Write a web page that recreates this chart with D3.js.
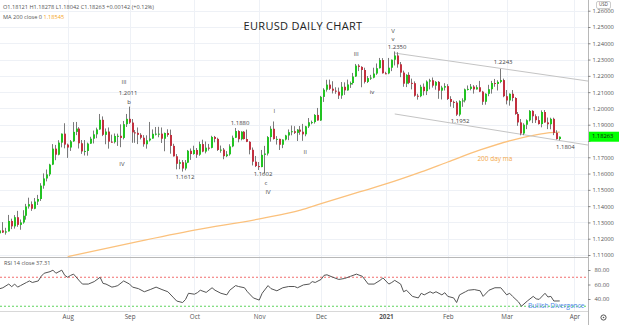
<!DOCTYPE html>
<html><head><meta charset="utf-8">
<script src="https://cdn.jsdelivr.net/npm/d3@7"></script>
<style>html,body{margin:0;padding:0;background:#fff;}svg{display:block;font-family:"Open Sans",sans-serif;}</style>
</head><body><svg id="c" width="620" height="325"></svg>
<script>
// ---------- DATA ----------
const startDate = "2020-07-01", endDate = "2021-04-03";
const holidays = ["2020-12-25"];
const opens = [
1.1233,1.1251,1.1238,1.1245,1.1309,1.1276,1.1332,1.1285,1.1300,1.1341,1.1398,1.1412,1.1384,1.1428,1.1444,1.1526,1.1570,1.1595,1.1655,1.1753,1.1716,1.1790,1.1845,
1.1778,1.1760,1.1798,1.1856,1.1876,1.1786,1.1736,1.1739,1.1784,1.1814,1.1841,1.1871,1.1930,1.1838,1.1858,1.1796,1.1793,1.1831,1.1832,1.1819,1.1903,
1.1936,1.1913,1.1853,1.1850,1.1838,1.1820,1.1780,1.1804,1.1815,1.1844,1.1845,1.1845,1.1814,1.1849,1.1837,1.1770,1.1706,1.1660,1.1670,1.1631,1.1667,1.1740,
1.1720,1.1745,1.1716,1.1781,1.1735,1.1759,1.1758,1.1825,1.1813,1.1745,1.1747,1.1707,1.1718,1.1767,1.1820,1.1861,1.1811,1.1857,1.1812,1.1795,1.1746,1.1673,
1.1646,1.1640,1.1715,1.1723,1.1824,1.1875,1.1812,1.1813,1.1777,1.1809,1.1834,1.1854,1.1860,1.1850,1.1870,1.1857,1.1841,1.1890,1.1915,1.1916,1.1960,
1.1926,1.2071,1.2115,1.2146,1.2121,1.2109,1.2103,1.2079,1.2133,1.2111,1.2147,1.2156,1.2196,1.2263,1.2255,1.2236,1.2163,1.2186,1.2189,1.2214,1.2247,1.2297,
1.2216,1.2215,1.2250,1.2299,1.2325,1.2271,1.2220,1.2152,1.2206,1.2157,1.2155,1.2078,1.2075,1.2133,1.2106,1.2165,1.2173,1.2140,1.2163,1.2109,1.2128,
1.2137,1.2058,1.2040,1.2036,1.1962,1.2045,1.2049,1.2117,1.2120,1.2134,1.2117,1.2130,1.2103,1.2041,1.2090,1.2118,1.2156,1.2150,1.2163,1.2174,
1.2075,1.2049,1.2090,1.2064,1.1966,1.1914,1.1846,1.1900,1.1927,1.1985,1.1952,1.1928,1.1904,1.1978,1.1914,1.1903,1.1936,1.1850,1.18121];
const highs = [
1.1289,1.1302,1.1267,1.1346,1.1323,1.1345,1.1371,1.1318,1.1375,1.1414,1.1452,1.1429,1.1450,1.1469,1.1541,1.1601,1.1625,1.1660,1.1781,1.1776,1.1805,1.1846,1.1909,
1.1784,1.1806,1.1916,1.1917,1.1885,1.1806,1.1806,1.1790,1.1826,1.1864,1.1882,1.1966,1.1951,1.1877,1.1883,1.1839,1.1846,1.1845,1.1902,1.1923,1.1966,
1.2011,1.1935,1.1867,1.1883,1.1848,1.1836,1.1835,1.1917,1.1871,1.1886,1.1887,1.1883,1.1852,1.1872,1.1870,1.1783,1.1720,1.1686,1.1683,1.1683,1.1745,1.1754,
1.1771,1.1757,1.1796,1.1808,1.1797,1.1782,1.1832,1.1831,1.1820,1.1772,1.1757,1.1738,1.1780,1.1833,1.1880,1.1866,1.1860,1.1861,1.1870,1.1799,1.1760,1.1708,
1.1671,1.1745,1.1770,1.1830,1.1891,1.1920,1.1830,1.1814,1.1810,1.1838,1.1871,1.1895,1.1891,1.1873,1.1892,1.1905,1.1893,1.1941,1.1925,1.1965,1.2003,
1.2077,1.2124,1.2176,1.2177,1.2167,1.2130,1.2128,1.2162,1.2160,1.2177,1.2165,1.2218,1.2273,1.2272,1.2259,1.2250,1.2199,1.2206,1.2250,1.2276,1.2310,1.2309,
1.2225,1.2310,1.2300,1.2350,1.2345,1.2285,1.2232,1.2210,1.2222,1.2183,1.2166,1.2090,1.2145,1.2153,1.2172,1.2182,1.2190,1.2168,1.2168,1.2139,1.2155,
1.2149,1.2075,1.2048,1.2046,1.2050,1.2062,1.2122,1.2141,1.2150,1.2143,1.2143,1.2169,1.2108,1.2093,1.2145,1.2169,1.2181,1.2173,1.2243,1.2183,
1.2113,1.2092,1.2113,1.2069,1.1978,1.1935,1.1909,1.1933,1.1990,1.1989,1.1964,1.1952,1.1988,1.1990,1.1944,1.1943,1.1943,1.1866,1.18278];
const lows = [
1.1222,1.1235,1.1225,1.1244,1.1259,1.1262,1.1273,1.1255,1.1292,1.1317,1.1385,1.1371,1.1381,1.1407,1.1432,1.1507,1.1552,1.1584,1.1652,1.1682,1.1712,1.1761,1.1755,
1.1696,1.1739,1.1794,1.1836,1.1754,1.1721,1.1711,1.1710,1.1782,1.1785,1.1817,1.1869,1.1830,1.1780,1.1753,1.1790,1.1785,1.1770,1.1762,1.1810,1.1886,
1.1905,1.1789,1.1789,1.1781,1.1810,1.1765,1.1753,1.1797,1.1814,1.1834,1.1823,1.1788,1.1737,1.1826,1.1722,1.1705,1.1626,1.1627,1.1612,1.1620,1.1664,1.1684,
1.1716,1.1696,1.1709,1.1731,1.1724,1.1741,1.1755,1.1792,1.1739,1.1728,1.1688,1.1701,1.1710,1.1762,1.1818,1.1792,1.1804,1.1809,1.1793,1.1718,1.1650,1.1640,
1.1622,1.1639,1.1602,1.1711,1.1796,1.1809,1.1778,1.1745,1.1756,1.1803,1.1805,1.1835,1.1843,1.1800,1.1838,1.1801,1.1829,1.1880,1.1903,1.1907,1.1925,
1.1923,1.2040,1.2103,1.2113,1.2092,1.2090,1.2058,1.2059,1.2083,1.2109,1.2126,1.2146,1.2193,1.2229,1.2130,1.2153,1.2156,1.2175,1.2185,1.2206,1.2245,1.2214,
1.2210,1.2210,1.2229,1.2264,1.2250,1.2192,1.2133,1.2131,1.2149,1.2117,1.2072,1.2054,1.2069,1.2080,1.2082,1.2117,1.2128,1.2115,1.2059,1.2055,1.2110,
1.2052,1.2011,1.2003,1.1954,1.1952,1.2010,1.2037,1.2110,1.2111,1.2091,1.2116,1.2100,1.2022,1.2023,1.2075,1.2091,1.2133,1.2110,1.2155,1.2069,
1.2025,1.2017,1.2044,1.1961,1.1893,1.1835,1.1836,1.1873,1.1920,1.1910,1.1911,1.1901,1.1884,1.1912,1.1873,1.1872,1.1836,1.1809,1.18042];
const closes = [
1.1251,1.1238,1.1245,1.1309,1.1276,1.1332,1.1285,1.1300,1.1341,1.1398,1.1412,1.1384,1.1428,1.1444,1.1526,1.1570,1.1595,1.1655,1.1753,1.1716,1.1790,1.1845,1.1778,
1.1760,1.1798,1.1856,1.1876,1.1786,1.1736,1.1739,1.1784,1.1814,1.1841,1.1871,1.1930,1.1838,1.1858,1.1796,1.1793,1.1831,1.1832,1.1819,1.1903,1.1936,
1.1913,1.1853,1.1850,1.1838,1.1820,1.1780,1.1804,1.1815,1.1844,1.1845,1.1845,1.1814,1.1849,1.1837,1.1770,1.1706,1.1660,1.1670,1.1631,1.1667,1.1740,1.1720,
1.1745,1.1716,1.1781,1.1735,1.1759,1.1758,1.1825,1.1813,1.1745,1.1747,1.1707,1.1718,1.1767,1.1820,1.1861,1.1811,1.1857,1.1812,1.1795,1.1746,1.1673,1.1646,
1.1640,1.1715,1.1723,1.1824,1.1875,1.1812,1.1813,1.1777,1.1809,1.1834,1.1854,1.1860,1.1850,1.1870,1.1857,1.1841,1.1890,1.1915,1.1916,1.1960,1.1926,
1.2071,1.2115,1.2146,1.2121,1.2109,1.2103,1.2079,1.2133,1.2111,1.2147,1.2156,1.2196,1.2263,1.2255,1.2236,1.2163,1.2186,1.2189,1.2214,1.2247,1.2297,1.2216,
1.2215,1.2250,1.2299,1.2325,1.2271,1.2220,1.2152,1.2206,1.2157,1.2155,1.2078,1.2075,1.2133,1.2106,1.2165,1.2173,1.2140,1.2163,1.2109,1.2128,1.2137,
1.2058,1.2040,1.2036,1.1962,1.2045,1.2049,1.2117,1.2120,1.2134,1.2117,1.2130,1.2103,1.2041,1.2090,1.2118,1.2156,1.2150,1.2163,1.2174,1.2075,
1.2049,1.2090,1.2064,1.1966,1.1914,1.1846,1.1900,1.1927,1.1985,1.1952,1.1928,1.1904,1.1978,1.1914,1.1903,1.1936,1.1850,1.1812,1.18263];

// 200-day moving average, read at selected bars (bar index -> value)
const maBar = [23,44,66,89,102,109,122,131,143,152,163,174,180,186,190];
const maVal = [1.1090,1.1172,1.1253,1.1325,1.1376,1.1416,1.1487,1.1536,1.1610,1.1671,1.1745,1.1806,1.1831,1.1850,1.18545];

// RSI(14), read at selected bars
const rsiBar = [0,1,3,4,5,6,7,9,10,11,13,14,15,17,18,19,21,22,23,24,25,27,28,30,32,34,35,36,38,39,40,42,44,45,47,49,51,53,55,57,59,60,62,63,64,66,67,68,70,72,73,75,77,78,80,81,83,84,86,88,89,91,92,94,96,98,100,101,103,105,106,107,109,110,111,113,115,117,119,121,123,125,127,129,130,132,133,134,136,137,138,140,142,143,144,146,147,148,150,151,152,154,155,156,158,159,161,163,164,166,168,170,172,173,174,176,177,179,181,182,183,185,186,187,188,190];
const rsiVal = [54.3,55.5,60.6,57,60.6,56.4,58.5,62.8,64.9,62.8,64.9,71.3,75.5,77.7,79.8,75.5,79.8,72.6,70,72.6,74.3,64.9,60.6,60.6,64,70,61.5,60.6,56.4,57.2,58.5,64.9,60.6,56.4,54.3,50,53,56.4,53,50,41.5,37.2,35.1,39.4,47.9,46.6,48.7,52.1,49.1,55.5,52.1,47.9,45.7,52.1,58.5,57.2,55.5,50,41.5,38.5,47.9,58.5,54.3,51.3,55.5,57.2,57.2,55.5,59.4,60.6,64,62.8,67,72.6,73.4,70,67,68.3,71.3,74.3,71.3,60.6,60.6,65.7,69.1,60.6,62.8,65.7,60.6,50,52.1,43.6,41.5,47.9,45.7,50,47.9,50,45.7,48.7,43.6,41.5,35.1,45.7,50,52.1,53,51.3,43.6,52.1,55.5,55.5,45.7,47.9,43.6,36,30,37.2,43.6,40.2,39.4,47.9,42.8,43.6,37.2,37.31];

const priceTicks = [1.11,1.12,1.13,1.14,1.15,1.16,1.17,1.18,1.19,1.20,1.21,1.22,1.23,1.24,1.25,1.26];
const rsiTicks = [40,60,80];
const rsiBands = [70,30];
const monthNames = ["Jan","Feb","Mar","Apr","May","Jun","Jul","Aug","Sep","Oct","Nov","Dec"];

// channel lines (bar index, price)
const channelUpper = [[134,1.2340],[199.6,1.2168]];
const channelLower = [[134,1.1966],[199.6,1.1775]];

// wave labels (text, bar index, price)
const labels = [
 ["III",42.1,1.2158],["1.2011",43.5,1.2090],["b",43.8,1.2038],["IV",41.4,1.1659],["1.1612",62.8,1.1579],
 ["1.1880",81.5,1.1910],["I",93.1,1.1984],["II",103.6,1.1732],["1.1602",89.3,1.1592],["c",90.3,1.1538],["IV",91,1.1484],
 ["III",120.9,1.2334],["iv",126.3,1.2100],["V",133.4,1.2472],["v",133.4,1.2425],["1.2350",134.8,1.2374],
 ["1.2243",170.8,1.2285],["1.1952",156.2,1.1923],["1.1804",191.9,1.1763]];
const maLabel = ["200 day ma",168,1.1689];
const lastClose = 1.18263;

// ---------- CHART ----------
const svg = d3.select("#c");
const plotR = 588, mainB = 257, rsiT = 257, rsiB = 311;
const parse = d3.utcParse("%Y-%m-%d"), fmt = d3.utcFormat("%Y-%m-%d");
const calendar = d3.utcDays(parse(startDate), parse(endDate))
  .filter(d => d.getUTCDay() % 6 !== 0 && !holidays.includes(fmt(d)));
const idxOf = s => calendar.findIndex(d => fmt(d) === s);
const x = d3.scaleLinear().domain([idxOf("2020-08-03"), idxOf("2021-03-01")]).range([67.7, 506.7]);
const y = d3.scaleLinear().domain([1.11, 1.25]).range([255, 27]);
const yR = d3.scaleLinear().domain([40, 80]).range([299, 270]);

const bars = closes.map((c,i) => ({i, o:opens[i], h:highs[i], l:lows[i], c}));
const monthStarts = calendar.map((d,i)=>({d,i})).filter(({d,i}) => i>0 && d.getUTCMonth() !== calendar[i-1].getUTCMonth());

const defs = svg.append("defs");
defs.append("clipPath").attr("id","cm").append("rect").attr("x",0).attr("y",0).attr("width",plotR).attr("height",mainB);
defs.append("clipPath").attr("id","cr").append("rect").attr("x",0).attr("y",rsiT).attr("width",plotR).attr("height",rsiB-rsiT);

const grid = svg.append("g");
grid.selectAll(".hg").data(priceTicks).join("line")
  .attr("x1",0).attr("x2",plotR).attr("y1",d=>Math.round(y(d))+0.5).attr("y2",d=>Math.round(y(d))+0.5)
  .attr("stroke","#eef1f6");
grid.selectAll(".vg").data(monthStarts).join("line")
  .attr("x1",d=>Math.round(x(d.i))+0.5).attr("x2",d=>Math.round(x(d.i))+0.5).attr("y1",0).attr("y2",rsiB)
  .attr("stroke","#eef1f6");

// main panel
const main = svg.append("g").attr("clip-path","url(#cm)");
main.append("path").datum(maBar.map((b,k)=>[b,maVal[k]]))
  .attr("d", d3.line().x(d=>x(d[0])).y(d=>y(d[1])).curve(d3.curveMonotoneX))
  .attr("fill","none").attr("stroke","#fbc17c").attr("stroke-width",1.3);
[channelUpper, channelLower].forEach(c => main.append("line")
  .attr("x1",x(c[0][0])).attr("y1",y(c[0][1])).attr("x2",x(c[1][0])).attr("y2",y(c[1][1]))
  .attr("stroke","#c4c4c4").attr("stroke-width",1));

const cg = main.selectAll(".cdl").data(bars).join("g");
cg.append("line")
  .attr("x1",d=>Math.round(x(d.i))-0.5).attr("x2",d=>Math.round(x(d.i))-0.5)
  .attr("y1",d=>y(d.h)).attr("y2",d=>y(d.l)).attr("stroke","#7a7a7a").attr("stroke-width",1);
cg.append("rect")
  .attr("x",d=>Math.round(x(d.i))-1).attr("width",2)
  .attr("y",d=>y(Math.max(d.o,d.c))).attr("height",d=>Math.max(1,Math.abs(y(d.o)-y(d.c))))
  .attr("fill",d=>d.c>=d.o?"#22c322":"#c2303f");

// labels
svg.append("g").selectAll("text").data(labels).join("text")
  .attr("x",d=>x(d[1])).attr("y",d=>y(d[2])).attr("text-anchor","middle").attr("dominant-baseline","middle")
  .attr("font-size",6).attr("fill","#444").text(d=>d[0]);
svg.append("text").attr("x",x(maLabel[1])).attr("y",y(maLabel[2])).attr("text-anchor","middle")
  .attr("dominant-baseline","middle").attr("font-size",6.5).attr("fill","#f5a94a").text(maLabel[0]);
svg.append("text").attr("x",303).attr("y",27).attr("text-anchor","middle").attr("dominant-baseline","middle")
  .attr("font-size",11).attr("fill","#222").attr("letter-spacing",0.3).text("EURUSD DAILY CHART");

// legend
svg.append("text").attr("x",3).attr("y",8.5).attr("font-size",5.6).attr("fill","#555")
  .text("O1.18121 H1.18278 L1.18042 C1.18263 +0.00142 (+0.12%)");
const ml = svg.append("text").attr("x",3).attr("y",18.5).attr("font-size",5.6).attr("fill","#555");
ml.append("tspan").text("MA 200 close 0 ");
ml.append("tspan").attr("fill","#f5a623").text(d3.format(".5f")(maVal[maVal.length-1]));

// RSI panel
const rsi = svg.append("g").attr("clip-path","url(#cr)");
rsi.selectAll(".band").data(rsiBands).join("line")
  .attr("x1",0).attr("x2",plotR).attr("y1",d=>yR(d)).attr("y2",d=>yR(d))
  .attr("stroke",d=>d===70?"#f26d6d":"#5fd35f").attr("stroke-dasharray","2,2").attr("stroke-width",1);
rsi.append("path").datum(rsiBar.map((b,k)=>[b,rsiVal[k]]))
  .attr("d", d3.line().x(d=>x(d[0])).y(d=>yR(d[1])))
  .attr("fill","none").attr("stroke","#555").attr("stroke-width",1);
svg.append("text").attr("x",528).attr("y",306).attr("dominant-baseline","middle")
  .attr("font-size",6.6).attr("fill","#4a86e8").text("Bullish Divergence");
svg.append("text").attr("x",4).attr("y",265).attr("font-size",5.6).attr("fill","#555")
  .text("RSI 14 close  " + rsiVal[rsiVal.length-1].toFixed(2));

// frame lines
svg.append("line").attr("x1",0).attr("x2",plotR).attr("y1",mainB+0.5).attr("y2",mainB+0.5).attr("stroke","#b8b8b8");
svg.append("line").attr("x1",0).attr("x2",plotR).attr("y1",rsiB+0.5).attr("y2",rsiB+0.5).attr("stroke","#d8d8d8");
svg.append("line").attr("x1",plotR+0.5).attr("x2",plotR+0.5).attr("y1",0).attr("y2",325).attr("stroke","#b8b8b8");

// right price axis (labels hidden where the price tag sits)
const py = y(lastClose);
const ax = svg.append("g").attr("transform",`translate(${plotR},0)`)
  .call(d3.axisRight(y).tickValues(priceTicks).tickFormat(d3.format(".5f")).tickSize(2.5).tickPadding(2));
ax.select(".domain").remove();
ax.selectAll("line").attr("stroke","#888");
ax.selectAll("text").attr("font-size",5.8).attr("fill","#555").attr("font-family","Open Sans")
  .attr("opacity", d => Math.abs(y(d)-py) < 7 ? 0 : 1);
// current price tag
svg.append("rect").attr("x",plotR+1).attr("y",py-5).attr("width",30).attr("height",10).attr("fill","#00ff00");
svg.append("text").attr("x",plotR+4).attr("y",py).attr("dominant-baseline","middle").attr("font-size",5.8).attr("fill","#111").text(d3.format(".5f")(lastClose));
// USD badge
svg.append("rect").attr("x",596.5).attr("y",1.5).attr("width",14).attr("height",7).attr("rx",1.5).attr("fill","#fff").attr("stroke","#aaa").attr("stroke-width",0.6);
svg.append("text").attr("x",603.5).attr("y",5.2).attr("text-anchor","middle").attr("dominant-baseline","middle").attr("font-size",4.4).attr("fill","#444").text("USD");

// RSI axis
const ar = svg.append("g").attr("transform",`translate(${plotR},0)`)
  .call(d3.axisRight(yR).tickValues(rsiTicks).tickFormat(d3.format(".2f")).tickSize(2.5).tickPadding(4));
ar.select(".domain").remove();
ar.selectAll("line").attr("stroke","#888");
ar.selectAll("text").attr("font-size",5.8).attr("fill","#555").attr("font-family","Open Sans");

// bottom time axis
const bx = svg.append("g").attr("transform",`translate(0,${rsiB})`)
  .call(d3.axisBottom(x).tickValues(monthStarts.map(m=>m.i)).tickSize(0).tickPadding(4)
    .tickFormat(i => { const d = calendar[i]; return d.getUTCMonth()===0 ? String(d.getUTCFullYear()) : monthNames[d.getUTCMonth()]; }));
bx.select(".domain").remove();
bx.selectAll("text").attr("font-size",6.3).attr("fill","#555").attr("font-family","Open Sans")
  .attr("font-weight",i => calendar[i].getUTCMonth()===0 ? 700 : 400);

// settings icon
svg.append("circle").attr("cx",603.5).attr("cy",317.5).attr("r",2.6).attr("fill","none").attr("stroke","#555").attr("stroke-width",1);
svg.append("circle").attr("cx",603.5).attr("cy",317.5).attr("r",0.8).attr("fill","#555");
</script></body></html>
